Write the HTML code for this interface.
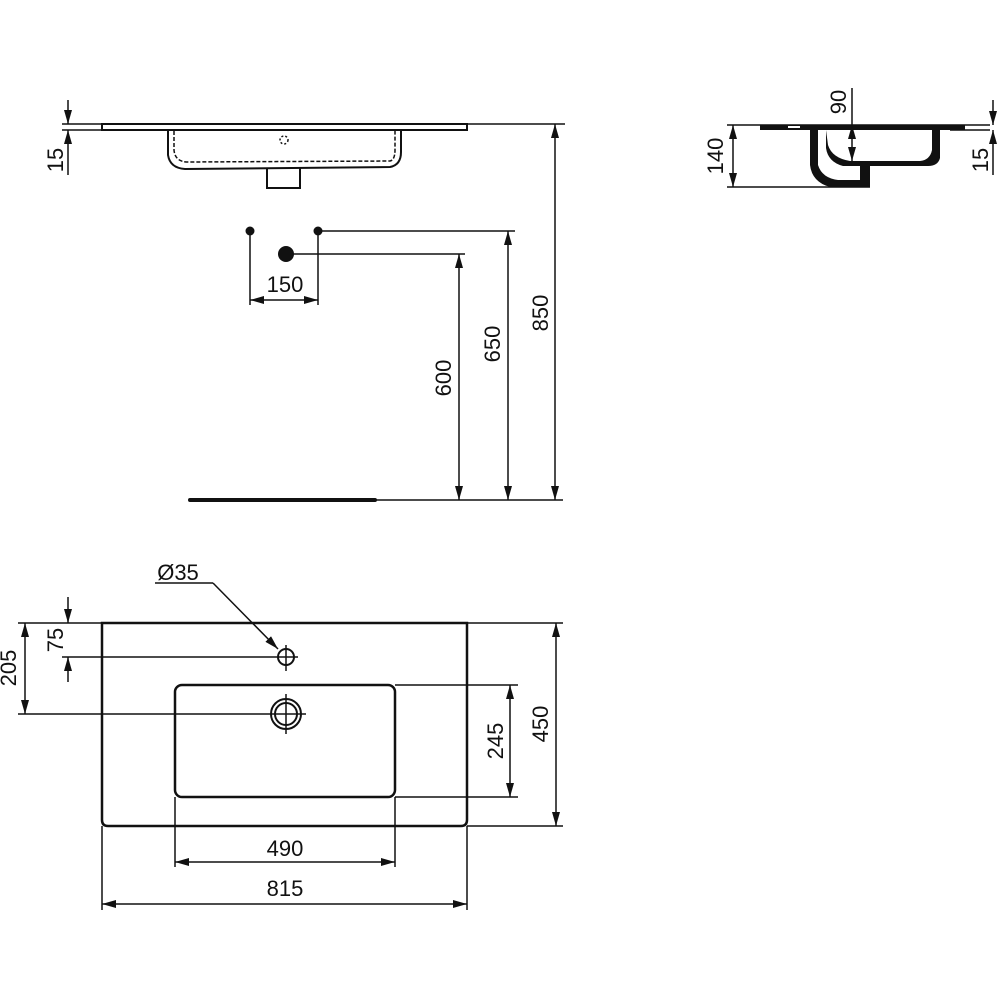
<!DOCTYPE html>
<html><head><meta charset="utf-8"><style>
html,body{margin:0;padding:0;background:#fff;}
svg{display:block;}
text{font-family:"Liberation Sans",Arial,sans-serif;font-size:22px;fill:#111;}
</style></head><body>
<svg width="1000" height="1000" viewBox="0 0 1000 1000" xmlns="http://www.w3.org/2000/svg">
<defs>
<marker id="a" viewBox="0 0 14 8" refX="14" refY="4" markerWidth="14" markerHeight="8" markerUnits="userSpaceOnUse" orient="auto-start-reverse"><path d="M0,0 L14,4 L0,8z" fill="#111"/></marker>
</defs>
<g stroke="#111" fill="none" stroke-width="1.5">
<!-- TOP ELEVATION -->
<rect x="102" y="124" width="365" height="6" stroke-width="2"/>
<line x1="467" y1="124" x2="565" y2="124"/>
<path d="M168,130 L168,155 Q170,168 185,169 L390,167 Q401,165 401,152 L401,130" stroke-width="2"/>
<path d="M174,131 L174,150 Q175,162 188,162 L390,161 Q395,160 395,150 L395,131" stroke-dasharray="4,2"/>
<circle cx="284" cy="140" r="4" stroke-dasharray="2,2"/>
<path d="M267,168 L267,188 L300,188 L300,168" stroke-width="2"/>
<line x1="62" y1="124" x2="102" y2="124"/>
<line x1="62" y1="130" x2="102" y2="130"/>
<line x1="68" y1="100" x2="68" y2="124" marker-end="url(#a)"/>
<line x1="68" y1="175" x2="68" y2="130" marker-end="url(#a)"/>
<!-- WALL OUTLETS -->
<line x1="250" y1="231" x2="250" y2="305"/>
<line x1="318" y1="231" x2="318" y2="305"/>
<line x1="250" y1="300" x2="318" y2="300" marker-start="url(#a)" marker-end="url(#a)"/>
<line x1="318" y1="231" x2="515" y2="231"/>
<line x1="286" y1="254" x2="465" y2="254"/>
<line x1="459" y1="254" x2="459" y2="500" marker-start="url(#a)" marker-end="url(#a)"/>
<line x1="508" y1="231" x2="508" y2="500" marker-start="url(#a)" marker-end="url(#a)"/>
<line x1="555" y1="124" x2="555" y2="500" marker-start="url(#a)" marker-end="url(#a)"/>
<line x1="375" y1="500" x2="563" y2="500"/>
<line x1="190" y1="500" x2="375" y2="500" stroke-width="4" stroke-linecap="round"/>
<!-- SIDE VIEW -->
<line x1="727" y1="125" x2="990" y2="125"/>
<line x1="950" y1="130" x2="990" y2="130"/>
<line x1="727" y1="187" x2="870" y2="187"/>
<line x1="733" y1="125" x2="733" y2="187" marker-start="url(#a)" marker-end="url(#a)"/>
<line x1="852" y1="88" x2="852" y2="125"/>
<path d="M760,125 L965,125 L965,130 L940,130 L940,158 Q938,166 928,166 L870,166 L870,187 L830,187 Q812,182 810,165 L810,130 L760,130 Z" fill="#111" stroke="none"/>
<path d="M818,130 L818,165 Q822,178 838,180 L860,180 L860,166 L843,166 Q828,162 826,148 L826,130 Z" fill="#fff" stroke="none"/>
<path d="M826,130 L932,130 L932,150 Q930,160 920,161 L850,161 Q832,158 828,145 Z" fill="#fff" stroke="none"/>
<rect x="788" y="126" width="12" height="2" fill="#fff" stroke="none"/>
<line x1="852" y1="125" x2="852" y2="161" marker-start="url(#a)" marker-end="url(#a)"/>
<line x1="993" y1="100" x2="993" y2="125" marker-end="url(#a)"/>
<line x1="993" y1="175" x2="993" y2="130" marker-end="url(#a)"/>
<!-- PLAN -->
<path d="M102,623 L467,623 L467,820 Q467,826 461,826 L108,826 Q102,826 102,820 Z" stroke-width="2.5"/>
<rect x="175" y="685" width="220" height="112" rx="7" stroke-width="2.5"/>
<line x1="467" y1="623" x2="563" y2="623"/>
<line x1="467" y1="826" x2="563" y2="826"/>
<line x1="556" y1="623" x2="556" y2="826" marker-start="url(#a)" marker-end="url(#a)"/>
<line x1="395" y1="685" x2="518" y2="685"/>
<line x1="395" y1="797" x2="518" y2="797"/>
<line x1="510" y1="685" x2="510" y2="797" marker-start="url(#a)" marker-end="url(#a)"/>
<line x1="175" y1="797" x2="175" y2="867"/>
<line x1="395" y1="797" x2="395" y2="867"/>
<line x1="175" y1="862" x2="395" y2="862" marker-start="url(#a)" marker-end="url(#a)"/>
<line x1="102" y1="826" x2="102" y2="910"/>
<line x1="467" y1="826" x2="467" y2="910"/>
<line x1="102" y1="904" x2="467" y2="904" marker-start="url(#a)" marker-end="url(#a)"/>
<line x1="18" y1="623" x2="102" y2="623"/>
<line x1="62" y1="657" x2="298" y2="657"/>
<line x1="18" y1="714" x2="306" y2="714"/>
<line x1="68" y1="597" x2="68" y2="623" marker-end="url(#a)"/>
<line x1="68" y1="682" x2="68" y2="657" marker-end="url(#a)"/>
<line x1="25" y1="623" x2="25" y2="714" marker-start="url(#a)" marker-end="url(#a)"/>
<circle cx="286" cy="657" r="8" stroke-width="2"/>
<line x1="286" y1="645" x2="286" y2="671"/>
<circle cx="286" cy="714" r="15" stroke-width="2"/>
<circle cx="286" cy="714" r="11" stroke-width="2"/>
<line x1="286" y1="694" x2="286" y2="734"/>
<line x1="155" y1="583" x2="213" y2="583"/>
<line x1="213" y1="583" x2="278" y2="649" marker-end="url(#a)"/>
</g>
<g fill="#111">
<circle cx="250" cy="231" r="4.5"/>
<circle cx="318" cy="231" r="4.5"/>
<circle cx="286" cy="254" r="8"/>
</g>
<text x="285" y="292" text-anchor="middle">150</text>
<text x="285" y="856" text-anchor="middle">490</text>
<text x="285" y="896" text-anchor="middle">815</text>
<text x="178" y="580" text-anchor="middle">Ø35</text>
<text transform="translate(63,160) rotate(-90)" text-anchor="middle">15</text>
<text transform="translate(451,378) rotate(-90)" text-anchor="middle">600</text>
<text transform="translate(500,344) rotate(-90)" text-anchor="middle">650</text>
<text transform="translate(548,313) rotate(-90)" text-anchor="middle">850</text>
<text transform="translate(723,156) rotate(-90)" text-anchor="middle">140</text>
<text transform="translate(846,102) rotate(-90)" text-anchor="middle">90</text>
<text transform="translate(988,160) rotate(-90)" text-anchor="middle">15</text>
<text transform="translate(63,640) rotate(-90)" text-anchor="middle">75</text>
<text transform="translate(16,668) rotate(-90)" text-anchor="middle">205</text>
<text transform="translate(503,741) rotate(-90)" text-anchor="middle">245</text>
<text transform="translate(548,724) rotate(-90)" text-anchor="middle">450</text>
</svg>
</body></html>
